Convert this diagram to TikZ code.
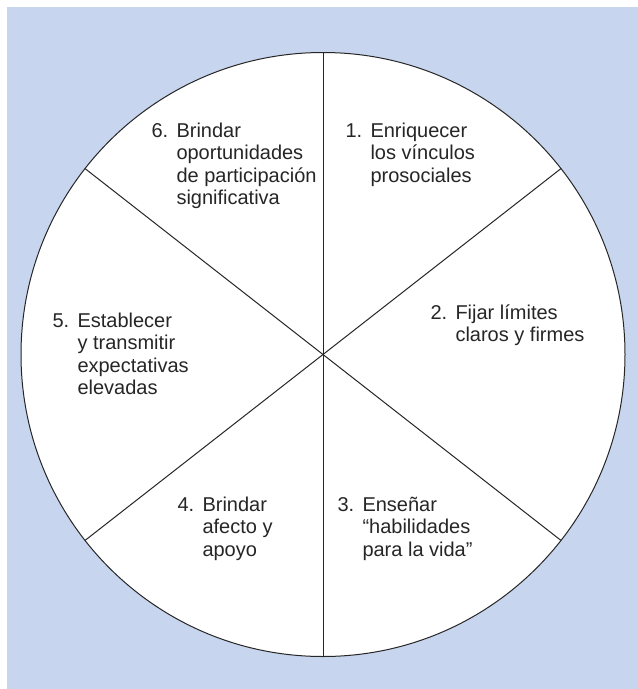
\documentclass[tikz,border=0pt]{standalone}
\usepackage{fontspec}
\setmainfont{Liberation Sans}
\usetikzlibrary{positioning}
\definecolor{panelblue}{RGB}{199,214,238}
% number, then the lines of the text set flush under each other
\newcommand{\numitem}[2]{\makebox[25pt][l]{#1}\begin{tabular}[t]{@{}l@{}}#2\end{tabular}}

\begin{document}
\begin{tikzpicture}[x=1pt, y=-1pt, line width=1pt,
  wheel/.style={circle,draw=black!85,fill=white,minimum size=604pt,inner sep=0pt,outer sep=0pt},
  spoke/.style={draw=black!85},
  goal/.style={anchor=base west,inner sep=0pt,font=\fontsize{20}{22.5}\selectfont,text=black!85}]
\useasboundingbox (0,0) rectangle (638,689);
\fill[panelblue] (7,7) rectangle (638,689);
\node[wheel] (w) at (323,354.5) {};
\begin{scope}
\draw[spoke] (w.90) -- (w.270);
\draw[spoke] (w.38) -- (w.218);
\draw[spoke] (w.142) -- (w.-38);
\end{scope}
\begin{scope}
\node[goal] (g1) at (345,137) {\numitem{1.}{Enriquecer\\los vínculos\\prosociales}};
\node[goal] (g2) at (430,319) {\numitem{2.}{Fijar límites\\claros y firmes}};
\node[goal] (g3) at (337,511) {\numitem{3.}{Enseñar\\“habilidades\\para la vida”}};
\node[goal] (g4) at (177,511) {\numitem{4.}{Brindar\\afecto y\\apoyo}};
\node[goal] (g5) at (52,327) {\numitem{5.}{Establecer\\y transmitir\\expectativas\\elevadas}};
\node[goal] (g6) at (151,137) {\numitem{6.}{Brindar\\oportunidades\\de participación\\significativa}};
\end{scope}
\end{tikzpicture}
\end{document}
